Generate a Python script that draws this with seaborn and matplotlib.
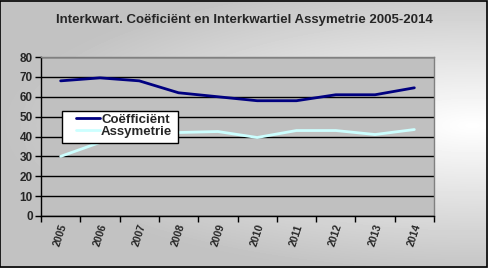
import numpy as np
import pandas as pd
import matplotlib
matplotlib.use("Agg")
import matplotlib.pyplot as plt
import seaborn as sns

years = ["2005", "2006", "2007", "2008", "2009", "2010", "2011", "2012", "2013", "2014"]
coefficient = [68, 69.5, 68, 62, 60, 58, 58, 61, 61, 64.5]
assymetrie = [30, 37, 41, 42, 42.5, 39.5, 43, 43, 41, 43.5]
series_names = ["Coëfficiënt", "Assymetrie"]
title = "Interkwart. Coëficiënt en Interkwartiel Assymetrie 2005-2014"

sns.set_theme(style="white")
plt.rcParams['font.family'] = ['Liberation Sans', 'DejaVu Sans']

df = pd.DataFrame({
    "pos": list(range(len(years))) * 2,
    "value": coefficient + assymetrie,
    "series": [series_names[0]] * len(years) + [series_names[1]] * len(years),
})

fig = plt.figure(figsize=(4.88, 2.68), dpi=100)

# background gradient (bright near right-middle)
bg = fig.add_axes([0, 0, 1, 1], zorder=-10)
X, Y = np.meshgrid(np.arange(488), np.arange(268))
dx = (X - 472) / 470.0
dy = (Y - 125) / 150.0
d = np.sqrt(dx ** 2 + dy ** 2)
grad = np.clip(1.0 - 0.24 * d, 0.76, 1.0)
bg.imshow(grad, cmap="gray", vmin=0, vmax=1, aspect="auto", extent=[0, 1, 0, 1], origin="upper")
bg.set_axis_off()
bg.add_patch(plt.Rectangle((0.001, 0.002), 0.997, 0.995, fill=False, edgecolor="black", lw=1.2, transform=bg.transAxes))

ax = fig.add_axes([41/488, 1-216/268, 393/488, 159/268])
ax.set_facecolor("#C0C0C0")
sns.lineplot(data=df, x="pos", y="value", hue="series",
             palette={series_names[0]: "#000080", series_names[1]: "#CCFFFF"},
             linewidth=2.0, ax=ax, legend=False)

ax.set_xlim(-0.5, len(years) - 0.5)
ax.set_ylim(0, 80)
ax.set_yticks(range(0, 81, 10))
ax.yaxis.grid(True, color="black", linewidth=1.0)
ax.set_axisbelow(True)
ax.set_xticks(range(len(years)))
ax.set_xticklabels(years, rotation=72, fontsize=7.5, fontweight="bold", ha="center", va="top")
ax.set_xticks(np.arange(-0.5, len(years)), minor=True)
ax.tick_params(axis="x", which="major", length=0, pad=5)
ax.tick_params(axis="x", which="minor", length=4, width=1, color="black", direction="out", bottom=True)
ax.tick_params(axis="y", length=4, width=1, color="black", direction="out", left=True, labelsize=8.5, pad=2)
for lab in ax.get_yticklabels():
    lab.set_fontweight("bold")
ax.set_xlabel("")
ax.set_ylabel("")
for s in ["top", "right"]:
    ax.spines[s].set_color("#808080")
    ax.spines[s].set_linewidth(1.0)
for s in ["left", "bottom"]:
    ax.spines[s].set_color("black")
    ax.spines[s].set_linewidth(1.0)

# legend frame drawn separately
ax.add_patch(plt.Rectangle((21/393, (216-143)/159), 116/393, 32/159, transform=ax.transAxes,
                           facecolor="white", edgecolor="black", lw=1.0, zorder=4.5, clip_on=False))
handles = [plt.Line2D([], [], color="#000080", lw=2.0), plt.Line2D([], [], color="#CCFFFF", lw=2.0)]
leg = ax.legend(handles, series_names, loc="upper left", bbox_to_anchor=((76-41)/393, (216-113.5)/159),
                frameon=False, prop={"weight": "bold", "size": 9.5}, borderpad=0, labelspacing=0.0,
                handlelength=1.8, handletextpad=0.1, borderaxespad=0)
leg.set_zorder(5)

fig.text(0.5, 1 - 20/268, title, ha="center", va="center", fontsize=9.5, fontweight="bold")

fig.savefig("out.png", dpi=100)
